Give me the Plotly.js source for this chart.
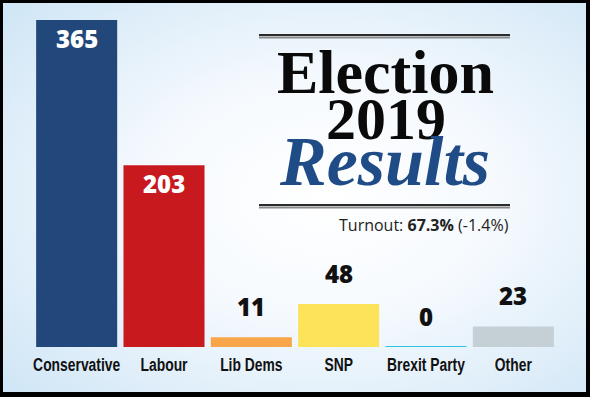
<!DOCTYPE html>
<html>
<head>
<meta charset="utf-8">
<script src="https://cdn.plot.ly/plotly-3.0.1.min.js"></script>
<style>
  html, body { margin: 0; padding: 0; background: #fff; }
  #wrap { position: relative; width: 590px; height: 397px; overflow: hidden; }
  #chart { width: 590px; height: 397px; }
  #frame { position: absolute; left: 0; top: 0; width: 590px; height: 397px; box-sizing: border-box;
           border-style: solid; border-color: #000; border-width: 3px 4px 5px 3px; pointer-events: none; }
</style>
</head>
<body>
<div id="wrap">
  <div id="chart"></div>
  <div id="frame"></div>
</div>
<script>
// ---- data ----
const parties = ["Conservative", "Labour", "Lib Dems", "SNP", "Brexit Party", "Other"];
const seats = [365, 203, 11, 48, 0, 23];
const colors = ["#22477a", "#c8191f", "#f9a54a", "#fde359", "#2cc6e0", "#c5cfd6"];
const labelInside = [true, true, false, false, false, false];
const titleLines = ["Election", "2019", "Results"];
const turnoutText = "Turnout: <b>67.3%</b> (-1.4%)";

// ---- layout geometry ----
const W = 590, H = 397;
const M = { l: 33, r: 33, t: 20, b: 50 };
const pw = W - M.l - M.r, ph = H - M.t - M.b;
const px = x => (x - M.l) / pw;
const py = y => 1 - (y - M.t) / ph;

const bg = 'data:image/svg+xml;utf8,' + encodeURIComponent(
  '<svg xmlns="http://www.w3.org/2000/svg" width="590" height="397" preserveAspectRatio="none">' +
  '<defs><radialGradient id="g" cx="55%" cy="50%" r="72%">' +
  '<stop offset="0" stop-color="#ffffff"/><stop offset="0.4" stop-color="#f6fafe"/>' +
  '<stop offset="1" stop-color="#d0e6f6"/></radialGradient></defs>' +
  '<rect width="590" height="397" fill="url(#g)"/></svg>');

const trace = {
  type: 'bar',
  x: parties,
  y: seats,
  marker: {
    color: colors,
    line: { color: colors, width: seats.map(v => v === 0 ? 2 : 0) }
  },
  hoverinfo: 'none'
};

const annotations = [];
parties.forEach((p, i) => {
  const inside = labelInside[i];
  annotations.push({
    x: p, y: seats[i], xref: 'x', yref: 'y',
    text: seats[i].toString(),
    showarrow: false,
    xanchor: 'center',
    yanchor: inside ? 'top' : 'bottom',
    yshift: inside ? 0 : 12,
    font: { family: 'Open Sans, sans-serif', size: 24, weight: 800, color: inside ? '#ffffff' : '#111111' }
  });
});

// title block
annotations.push({
  xref: 'paper', yref: 'paper', x: px(385), y: py(94), xanchor: 'center', yanchor: 'bottom',
  text: '<b>' + titleLines[0] + '</b>', showarrow: false,
  font: { family: 'Liberation Serif, serif', size: 62, color: '#0a0a0a' }, yshift: -14
});
annotations.push({
  xref: 'paper', yref: 'paper', x: px(386), y: py(140), xanchor: 'center', yanchor: 'bottom',
  text: '<b>' + titleLines[1] + '</b>', showarrow: false,
  font: { family: 'Liberation Serif, serif', size: 60, color: '#0a0a0a' }, yshift: -14
});
annotations.push({
  xref: 'paper', yref: 'paper', x: px(384), y: py(186), xanchor: 'center', yanchor: 'bottom',
  text: '<b><i>' + titleLines[2] + '</i></b>', showarrow: false,
  font: { family: 'Liberation Serif, serif', size: 70, color: '#1f4b86' }, yshift: -16
});
annotations.push({
  xref: 'paper', yref: 'paper', x: px(511), y: py(225), xanchor: 'right', yanchor: 'middle',
  text: turnoutText, showarrow: false,
  font: { family: 'Open Sans, sans-serif', size: 16, color: '#222222' }
});

const rule = (y, color, w) => ({
  type: 'line', xref: 'paper', yref: 'paper', x0: px(259), x1: px(510), y0: py(y), y1: py(y),
  line: { color: color, width: w }
});

const layout = {
  width: W, height: H,
  margin: M,
  paper_bgcolor: '#ffffff',
  plot_bgcolor: 'rgba(0,0,0,0)',
  bargap: 0.072,
  showlegend: false,
  xaxis: {
    type: 'category',
    showgrid: false, zeroline: false, showline: false, ticks: '',
    tickangle: 0,
    ticklabelstandoff: 5,
    tickfont: { family: 'Liberation Sans, Arial, sans-serif', size: 18, color: '#111111', weight: 'bold' },
    fixedrange: true
  },
  yaxis: {
    range: [0, 365], showgrid: false, zeroline: false, showline: false,
    showticklabels: false, ticks: '', fixedrange: true
  },
  images: [{
    source: bg, xref: 'paper', yref: 'paper',
    x: -M.l / pw, y: 1 + M.t / ph, sizex: W / pw, sizey: H / ph,
    xanchor: 'left', yanchor: 'top', sizing: 'stretch', layer: 'below'
  }],
  shapes: [
    rule(35, '#2b2b2b', 2), rule(37.5, '#8a8a8a', 2),
    rule(205, '#2b2b2b', 2), rule(207.5, '#8a8a8a', 2)
  ],
  annotations: annotations
};

Plotly.newPlot('chart', [trace], layout, { staticPlot: true, displayModeBar: false }).then(gd => {
  // condense the category labels (narrow bold face in the reference)
  gd.querySelectorAll('.xtick text').forEach(t => {
    const len = t.getComputedTextLength();
    t.setAttribute('textLength', (len * 0.77).toFixed(1));
    t.setAttribute('lengthAdjust', 'spacingAndGlyphs');
  });
});
</script>
</body>
</html>
